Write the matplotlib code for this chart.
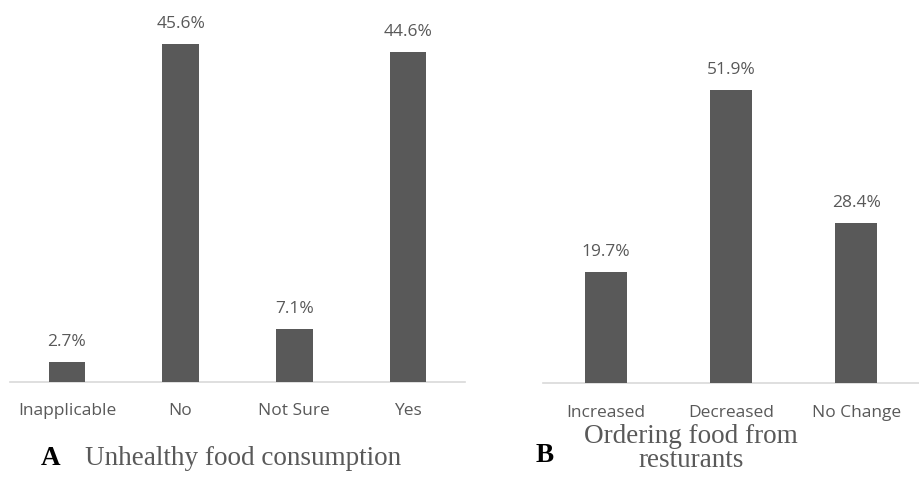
import matplotlib
matplotlib.use("Agg")

import matplotlib.pyplot as plt

# ── Data ──────────────────────────────────────────────────────────────────────
unhealthy_labels = ["Inapplicable", "No", "Not Sure", "Yes"]
unhealthy_pct = [2.7, 45.6, 7.1, 44.6]

ordering_labels = ["Increased", "Decreased", "No Change"]
ordering_pct = [19.7, 51.9, 28.4]

BAR = "#595959"
TEXT = "#595959"
AXIS = "#d9d9d9"
SANS = ["Open Sans", "DejaVu Sans"]
SERIF = ["Liberation Serif", "DejaVu Serif"]
LABEL_PT = 12.5
CAPTION_PT = 19.5


def _bar_panel(ax, labels, values, width, top):
    xs = range(len(labels))
    bars = ax.bar(xs, values, width=width, color=BAR, zorder=3)
    for rect, v in zip(bars, values):
        ax.annotate(f"{v}%", xy=(rect.get_x() + rect.get_width() / 2, v),
                    xytext=(0, 14.5), textcoords="offset points",
                    ha="center", va="center", fontsize=LABEL_PT,
                    color=TEXT, family=SANS)
    ax.set_xlim(-0.5, len(labels) - 0.5)
    ax.set_ylim(0, top)
    ax.set_xticks(list(xs))
    ax.set_xticklabels(labels, fontsize=LABEL_PT, color=TEXT, family=SANS)
    ax.tick_params(axis="x", length=0, pad=15.5)
    ax.set_yticks([])
    for side in ("top", "left", "right"):
        ax.spines[side].set_visible(False)
    ax.spines["bottom"].set_color(AXIS)
    ax.spines["bottom"].set_linewidth(1.2)


fig = plt.figure(figsize=(9.19, 4.78), dpi=100)

ax_a = fig.add_axes([0.0109, 0.2015, 0.495, 0.774])
_bar_panel(ax_a, unhealthy_labels, unhealthy_pct, 0.32, 50)

ax_b = fig.add_axes([0.5909, 0.1977, 0.409, 0.71])
_bar_panel(ax_b, ordering_labels, ordering_pct, 0.335, 60)

# panel captions
fig.text(41 / 919, 1 - 465 / 478, "A", fontsize=CAPTION_PT, fontweight="bold",
         color="black", family=SERIF, ha="left", va="baseline")
fig.text(85 / 919, 1 - 465 / 478, "Unhealthy food consumption", fontsize=CAPTION_PT,
         color=TEXT, family=SERIF, ha="left", va="baseline")

fig.text(536 / 919, 1 - 462 / 478, "B", fontsize=CAPTION_PT, fontweight="bold",
         color="black", family=SERIF, ha="left", va="baseline")
fig.text(691 / 919, 1 - 443 / 478, "Ordering food from", fontsize=CAPTION_PT,
         color=TEXT, family=SERIF, ha="center", va="baseline")
fig.text(691 / 919, 1 - 467 / 478, "resturants", fontsize=CAPTION_PT,
         color=TEXT, family=SERIF, ha="center", va="baseline")

fig.savefig("out.png", dpi=100)
